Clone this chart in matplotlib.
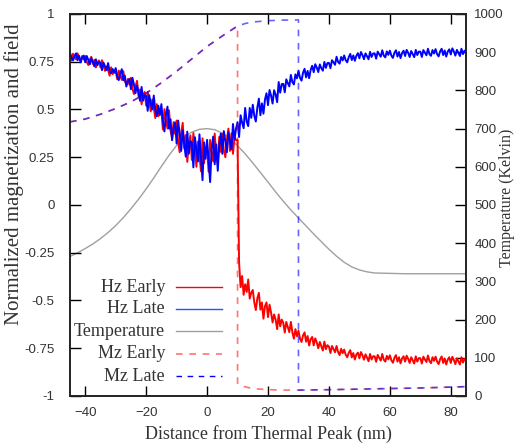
import numpy as np
import matplotlib
matplotlib.use("Agg")
import matplotlib.pyplot as plt

# ---- data ----
# Hz curves sampled every 0.5 nm from -45 to 85
hz_x = np.arange(-45, 85.01, 0.5)
hz_late = [
    0.798, 0.770, 0.757, 0.780, 0.794, 0.758, 0.781, 0.747, 0.772, 0.782,
    0.747, 0.780, 0.760, 0.736, 0.768, 0.749, 0.726, 0.763, 0.732, 0.749,
    0.745, 0.706, 0.745, 0.725, 0.706, 0.743, 0.700, 0.690, 0.712, 0.692,
    0.717, 0.672, 0.654, 0.688, 0.711, 0.653, 0.677, 0.620, 0.647, 0.660,
    0.606, 0.666, 0.630, 0.585, 0.626, 0.590, 0.545, 0.618, 0.546, 0.576,
    0.570, 0.493, 0.575, 0.534, 0.500, 0.573, 0.497, 0.465, 0.520, 0.471,
    0.528, 0.434, 0.385, 0.470, 0.515, 0.400, 0.449, 0.339, 0.403, 0.432,
    0.322, 0.442, 0.372, 0.283, 0.391, 0.318, 0.253, 0.384, 0.268, 0.334,
    0.326, 0.197, 0.355, 0.290, 0.228, 0.370, 0.245, 0.130, 0.328, 0.242,
    0.341, 0.228, 0.120, 0.294, 0.358, 0.213, 0.317, 0.179, 0.315, 0.374,
    0.268, 0.387, 0.335, 0.276, 0.382, 0.338, 0.291, 0.424, 0.343, 0.400,
    0.434, 0.356, 0.470, 0.431, 0.402, 0.508, 0.436, 0.413, 0.508, 0.456,
    0.525, 0.467, 0.437, 0.510, 0.557, 0.470, 0.532, 0.478, 0.552, 0.585,
    0.523, 0.602, 0.573, 0.531, 0.601, 0.578, 0.538, 0.644, 0.588, 0.633,
    0.634, 0.590, 0.658, 0.638, 0.621, 0.681, 0.643, 0.631, 0.684, 0.663,
    0.702, 0.666, 0.651, 0.693, 0.713, 0.668, 0.702, 0.664, 0.707, 0.729,
    0.695, 0.737, 0.720, 0.696, 0.736, 0.716, 0.703, 0.749, 0.718, 0.743,
    0.744, 0.716, 0.758, 0.747, 0.734, 0.776, 0.749, 0.740, 0.775, 0.757,
    0.783, 0.758, 0.747, 0.774, 0.791, 0.759, 0.783, 0.755, 0.781, 0.795,
    0.768, 0.801, 0.785, 0.763, 0.794, 0.778, 0.763, 0.802, 0.775, 0.793,
    0.794, 0.766, 0.803, 0.789, 0.776, 0.810, 0.782, 0.773, 0.804, 0.786,
    0.808, 0.782, 0.770, 0.797, 0.810, 0.777, 0.801, 0.769, 0.795, 0.808,
    0.780, 0.812, 0.797, 0.775, 0.806, 0.790, 0.774, 0.812, 0.785, 0.803,
    0.803, 0.775, 0.811, 0.798, 0.784, 0.818, 0.790, 0.781, 0.811, 0.793,
    0.816, 0.790, 0.778, 0.804, 0.818, 0.785, 0.809, 0.777, 0.803, 0.815,
    0.788, 0.820, 0.804, 0.782, 0.812, 0.796, 0.780, 0.818, 0.790, 0.808,
    0.800,
]
hz_early = [
    0.786, 0.756, 0.792, 0.776, 0.762, 0.794, 0.766, 0.753, 0.780, 0.762,
    0.780, 0.749, 0.733, 0.761, 0.776, 0.738, 0.760, 0.720, 0.745, 0.757,
    0.720, 0.758, 0.734, 0.702, 0.725, 0.707, 0.677, 0.721, 0.685, 0.704,
    0.702, 0.658, 0.704, 0.676, 0.655, 0.701, 0.649, 0.630, 0.660, 0.630,
    0.666, 0.608, 0.581, 0.621, 0.650, 0.568, 0.605, 0.527, 0.574, 0.592,
    0.520, 0.592, 0.545, 0.490, 0.552, 0.509, 0.455, 0.528, 0.464, 0.500,
    0.496, 0.395, 0.502, 0.443, 0.400, 0.496, 0.389, 0.352, 0.434, 0.372,
    0.442, 0.330, 0.276, 0.378, 0.430, 0.297, 0.366, 0.226, 0.321, 0.364,
    0.236, 0.377, 0.297, 0.200, 0.332, 0.258, 0.176, 0.349, 0.219, 0.298,
    0.296, 0.174, 0.341, 0.276, 0.228, 0.374, 0.260, 0.217, 0.357, 0.278,
    0.373, 0.287, 0.250, 0.341, 0.400, 0.283, 0.375, 0.268, 0.356, 0.340,
    0.340, -0.300, -0.430, -0.372, -0.470, -0.415, -0.455, -0.390, -0.490, -0.460,
    -0.445, -0.510, -0.550, -0.488, -0.460, -0.548, -0.510, -0.595, -0.530, -0.510,
    -0.587, -0.522, -0.563, -0.615, -0.573, -0.600, -0.650, -0.573, -0.635, -0.600,
    -0.616, -0.668, -0.612, -0.640, -0.666, -0.612, -0.667, -0.700, -0.650, -0.687,
    -0.658, -0.700, -0.717, -0.683, -0.667, -0.716, -0.686, -0.736, -0.702, -0.691,
    -0.735, -0.698, -0.720, -0.750, -0.717, -0.740, -0.762, -0.715, -0.755, -0.734,
    -0.741, -0.775, -0.738, -0.755, -0.771, -0.738, -0.770, -0.786, -0.753, -0.776,
    -0.757, -0.784, -0.797, -0.774, -0.760, -0.798, -0.775, -0.809, -0.783, -0.773,
    -0.803, -0.770, -0.787, -0.810, -0.782, -0.799, -0.818, -0.780, -0.809, -0.792,
    -0.792, -0.821, -0.785, -0.800, -0.815, -0.780, -0.810, -0.820, -0.790, -0.808,
    -0.787, -0.813, -0.826, -0.800, -0.786, -0.820, -0.797, -0.829, -0.804, -0.792,
    -0.820, -0.789, -0.805, -0.827, -0.797, -0.813, -0.830, -0.792, -0.820, -0.802,
    -0.802, -0.830, -0.794, -0.809, -0.822, -0.788, -0.817, -0.828, -0.797, -0.816,
    -0.794, -0.820, -0.833, -0.807, -0.793, -0.827, -0.803, -0.835, -0.809, -0.797,
    -0.827, -0.795, -0.811, -0.833, -0.803, -0.819, -0.835, -0.797, -0.825, -0.807,
    -0.815,
]

# temperature (Kelvin, right axis)
temp_x = [-45, -42.5, -40, -37.5, -35, -32.5, -30, -27.5, -25, -22.5, -20, -17.5,
          -15, -12.5, -10, -7.5, -5, -2.5, 0, 2.5, 5, 7.5, 10, 12.5, 15, 17.5, 20,
          22.5, 25, 27.5, 30, 32.5, 35, 37.5, 40, 42.5, 45, 47.5, 50, 52.5, 55,
          60, 65, 70, 75, 80, 85]
temp_k = [365, 375, 386, 398, 412, 428, 446, 467, 490, 515, 542, 571,
          601, 630, 656, 677, 691, 698, 700, 697, 688, 674, 655, 634, 610, 585, 560,
          534, 510, 487, 466, 445, 424, 404, 384, 366, 350, 338, 330, 325, 322,
          321, 320, 320, 320, 320, 320]

# Mz curves
mz_early_x = [-45, -40, -35, -30, -25, -20, -15, -10, -5, 0, 5, 10,
              10, 12.5, 15, 20, 25, 30, 40, 50, 60, 70, 85]
mz_early = [0.435, 0.45, 0.475, 0.505, 0.54, 0.585, 0.64, 0.70, 0.765, 0.83, 0.885, 0.937,
            -0.937, -0.952, -0.961, -0.967, -0.969, -0.969, -0.967, -0.964, -0.961, -0.958, -0.951]
mz_late_x = [-45, -40, -35, -30, -25, -20, -15, -10, -5, 0, 5, 10,
             12.5, 15, 20, 25, 30, 30, 40, 50, 60, 70, 85]
mz_late = [0.435, 0.45, 0.475, 0.505, 0.54, 0.585, 0.64, 0.70, 0.765, 0.83, 0.885, 0.937,
           0.95, 0.958, 0.965, 0.968, 0.969, -0.969, -0.967, -0.964, -0.961, -0.958, -0.951]

labels = ["Hz Early", "Hz Late", "Temperature", "Mz Early", "Mz Late"]

SANS = "Liberation Sans"
SERIF = "Liberation Serif"
TXT = "#333333"

fig = plt.figure(figsize=(5.17, 4.47), dpi=100)
ax = fig.add_axes([0.1354, 0.1141, 0.766, 0.8546])
ax2 = ax.twinx()
ax.set_zorder(2); ax2.set_zorder(1); ax.patch.set_visible(False)

ax2.plot(temp_x, temp_k, color="#a0a0a0", lw=1.0)
ax.plot(hz_x, hz_early, color="#ff0000", lw=1.4)
ax.plot(hz_x, hz_late, color="#0000ff", lw=1.4)
ax.plot(mz_early_x, mz_early, color="#ff0000", alpha=0.55, lw=1.2, dashes=(4, 4))
ax.plot(mz_late_x, mz_late, color="#0000ff", alpha=0.6, lw=1.2, dashes=(4, 4))

ax.set_xlim(-45, 85); ax.set_ylim(-1, 1); ax2.set_ylim(0, 1000)
ax.set_xticks([-40, -20, 0, 20, 40, 60, 80])
ax.set_yticks([-1, -0.75, -0.5, -0.25, 0, 0.25, 0.5, 0.75, 1])
ax.set_yticklabels(["-1", "-0.75", "-0.5", "-0.25", "0", "0.25", "0.5", "0.75", "1"])
ax2.set_yticks(range(0, 1001, 100))

ax.tick_params(axis="x", direction="in", top=True, length=7, width=1, pad=8, labelsize=9.5, labelcolor=TXT)
ax.tick_params(axis="y", direction="in", left=True, right=False, length=8, width=1, pad=11, labelsize=9.5, labelcolor=TXT)
ax2.tick_params(axis="y", direction="in", length=8, width=1, pad=6, labelsize=9.5, labelcolor=TXT)
for a in (ax, ax2):
    for lab in a.get_xticklabels() + a.get_yticklabels():
        lab.set_fontfamily(SANS)
    for s in a.spines.values():
        s.set_linewidth(1.2); s.set_color("#222222")

ax.set_xlabel("Distance from Thermal Peak (nm)", family=SERIF, fontsize=13, color=TXT, labelpad=4)
ax.set_ylabel("Normalized magnetization and field", family=SERIF, fontsize=15, color=TXT,
              va="center", rotation_mode="anchor")
ax.yaxis.set_label_coords(-0.141, 0.58)
ax2.set_ylabel("Temperature (Kelvin)", family=SERIF, fontsize=11.5, color=TXT,
               va="center", rotation=90, rotation_mode="anchor")
ax2.yaxis.set_label_coords(1.104, 0.518)

# gnuplot-style key: right-aligned text, sample to the right
key_y = [0.285, 0.228, 0.170, 0.110, 0.052]
key_style = [dict(color="#ff0000", lw=1.0), dict(color="#3050ff", lw=1.0),
             dict(color="#a0a0a0", lw=1.0), dict(color="#ff0000", alpha=0.55, lw=1.2, dashes=(4, 4)),
             dict(color="#0000ff", lw=1.0, dashes=(4, 4))]
for lab, yy, st in zip(labels, key_y, key_style):
    ax.text(0.24, yy, lab, transform=ax.transAxes, ha="right", va="center",
            family=SERIF, fontsize=13, color=TXT)
    ax.plot([0.268, 0.384], [yy, yy], transform=ax.transAxes, **st)

fig.savefig("out.png", dpi=100)
